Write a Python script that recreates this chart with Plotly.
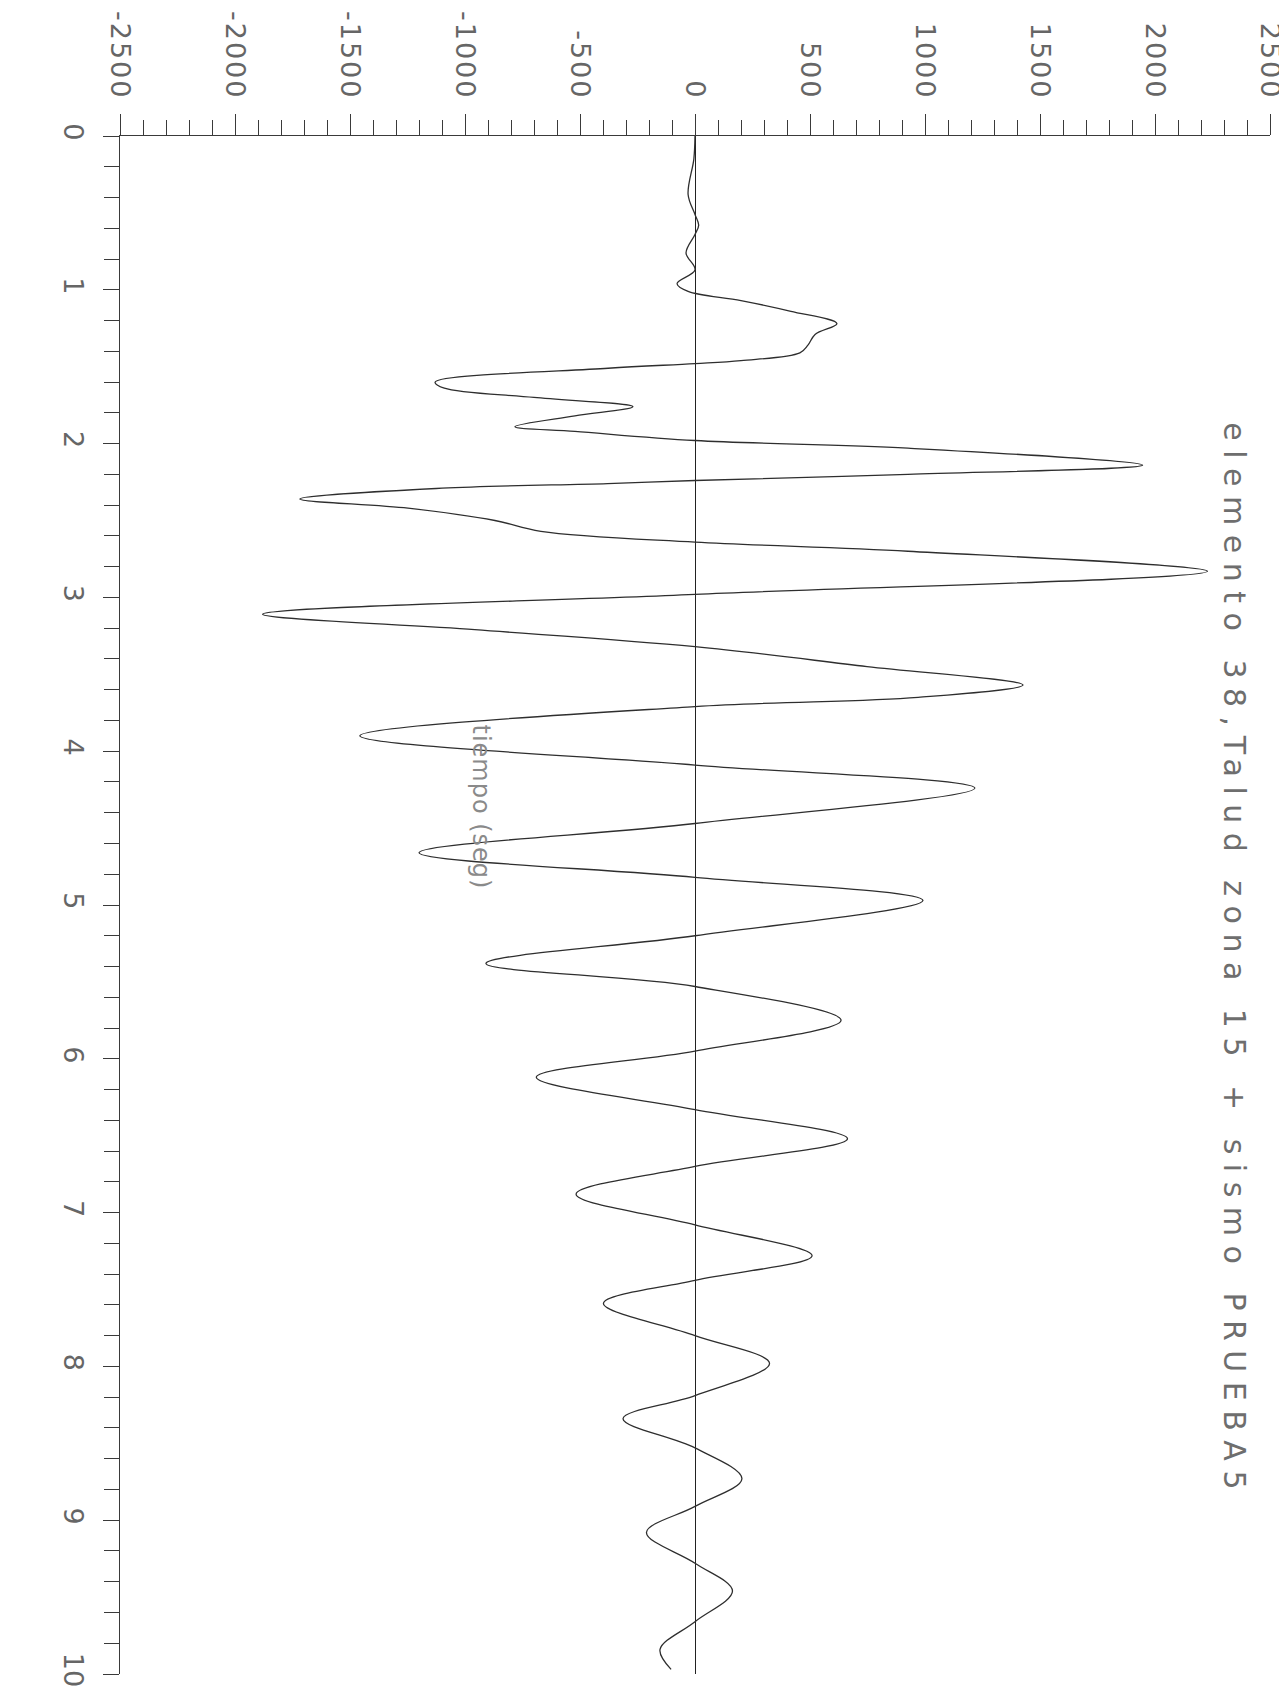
import plotly.graph_objects as go

# ---- data (time in s, value) ----
time_s = [0.00, 0.15, 0.38, 0.51, 0.58, 0.64, 0.76, 0.87, 0.96, 1.01,
          1.07, 1.14, 1.22, 1.29, 1.36, 1.41, 1.46, 1.48, 1.51, 1.60,
          1.64, 1.70, 1.76, 1.82, 1.89, 1.92, 1.98, 2.03, 2.14, 2.20,
          2.24, 2.26, 2.29, 2.36, 2.42, 2.50, 2.57, 2.64, 2.70, 2.83,
          2.98, 3.11, 3.21, 3.32, 3.45, 3.57, 3.65, 3.71, 3.90, 4.09,
          4.24, 4.47, 4.66, 4.82, 4.97, 5.20, 5.38, 5.53, 5.75, 5.95,
          6.12, 6.33, 6.52, 6.70, 6.88, 7.08, 7.28, 7.44, 7.59, 7.80,
          7.98, 8.19, 8.34, 8.53, 8.73, 8.91, 9.08, 9.28, 9.46, 9.66,
          9.84, 9.97]
values = [0, -5, -30, 0, 16, 0, -39, 0, -78, -30,
          200, 417, 617, 522, 491, 456, 200, 0, -378, -1130,
          -1090, -700, -270, -522, -783, -522, 0, 926, 1946, 926,
          0, -380, -1100, -1718, -1248, -870, -670, 0, 926, 2228,
          0, -1880, -957, 0, 748, 1426, 970, 0, -1457, 0,
          1217, 0, -1200, 0, 991, 0, -909, 0, 635, 0,
          -690, 0, 663, 0, -517, 0, 509, 0, -398, 0,
          324, 0, -313, 0, 204, 0, -211, 0, 163, 0,
          -152, -104]

value_ticks = [-2500, -2000, -1500, -1000, -500, 0, 500, 1000, 1500, 2000, 2500]
value_tick_labels = ["-2500", "-2000", "-1500", "-1000", "-500", "0",
                     "500", "1000", "1500", "2000", "2500"]
time_ticks = [0, 1, 2, 3, 4, 5, 6, 7, 8, 9, 10]
time_tick_labels = ["0", "1", "2", "3", "4", "5", "6", "7", "8", "9", "10"]

title_text = "elemento 38,Talud zona 15 + sismo PRUEBA5"
time_title_text = "tiempo (seg)"

FONT = "DejaVu Sans"
AX = "#3a3a3a"

fig = go.Figure()
fig.add_trace(go.Scatter(
    x=values, y=time_s, mode="lines",
    line=dict(color="#2e2e2e", width=1.3, shape="spline", smoothing=1.0),
    hoverinfo="skip", showlegend=False))

fig.update_xaxes(
    range=[-2500, 2500], side="top", automargin=False,
    tickmode="array", tickvals=value_ticks,
    ticktext=[f'<span style="letter-spacing:2px">{s}</span>' for s in value_tick_labels],
    tickangle=90, ticks="outside", ticklen=21, tickwidth=1, tickcolor=AX,
    minor=dict(dtick=100, ticks="outside", ticklen=15, tickwidth=1, tickcolor=AX),
    showline=True, linecolor=AX, linewidth=1.2, mirror=False,
    showgrid=False, zeroline=True, zerolinecolor="#222", zerolinewidth=1.2,
    tickfont=dict(family=FONT, size=27, color="#666"),
    ticklabelstandoff=5,
)
fig.update_yaxes(
    range=[10, 0], automargin=False,
    tickmode="array", tickvals=time_ticks, ticktext=time_tick_labels,
    tickangle=90, ticks="outside", ticklen=16, tickwidth=1, tickcolor=AX,
    minor=dict(dtick=0.2, ticks="outside", ticklen=15, tickwidth=1, tickcolor=AX),
    showline=True, linecolor=AX, linewidth=1.2, mirror=False,
    showgrid=False, zeroline=False,
    tickfont=dict(family=FONT, size=27, color="#666"),
    ticklabelstandoff=6,
)

fig.add_annotation(
    x=2348, y=5.36, xref="x", yref="y",
    text=f'<span style="letter-spacing:9.5px">{title_text}</span>',
    textangle=90, showarrow=False,
    font=dict(family=FONT, size=30, color="#6e6e6e"))
fig.add_annotation(
    x=-930, y=4.36, xref="x", yref="y",
    text=f'<span style="letter-spacing:1px">{time_title_text}</span>',
    textangle=90, showarrow=False,
    font=dict(family=FONT, size=24, color="#8a8a8a"))

fig.update_layout(
    width=1287, height=1687, autosize=False,
    margin=dict(l=112, r=25, t=128, b=21),
    plot_bgcolor="white", paper_bgcolor="white",
    showlegend=False,
)

fig.write_html("out.html")
